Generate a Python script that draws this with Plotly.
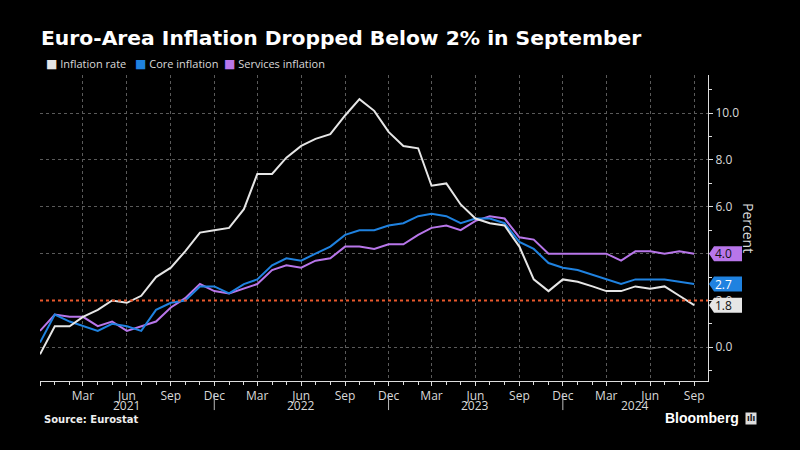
import plotly.graph_objects as go
import pandas as pd

# ---- data (monthly, Dec 2020 .. Sep 2024) ----
months = [d.strftime("%Y-%m-%d") for d in pd.date_range("2020-12-01", "2024-09-01", freq="MS")]

inflation_rate = [-0.3,
                  0.9, 0.9, 1.3, 1.6, 2.0, 1.9, 2.2, 3.0, 3.4, 4.1, 4.9, 5.0,
                  5.1, 5.9, 7.4, 7.4, 8.1, 8.6, 8.9, 9.1, 9.9, 10.6, 10.1, 9.2,
                  8.6, 8.5, 6.9, 7.0, 6.1, 5.5, 5.3, 5.2, 4.3, 2.9, 2.4, 2.9,
                  2.8, 2.6, 2.4, 2.4, 2.6, 2.5, 2.6, 2.2, 1.8]
core_inflation = [0.2,
                  1.4, 1.1, 0.9, 0.7, 1.0, 0.9, 0.7, 1.6, 1.9, 2.0, 2.6, 2.6,
                  2.3, 2.7, 2.9, 3.5, 3.8, 3.7, 4.0, 4.3, 4.8, 5.0, 5.0, 5.2,
                  5.3, 5.6, 5.7, 5.6, 5.3, 5.5, 5.5, 5.3, 4.5, 4.2, 3.6, 3.4,
                  3.3, 3.1, 2.9, 2.7, 2.9, 2.9, 2.9, 2.8, 2.7]
services_inflation = [0.7,
                      1.4, 1.3, 1.3, 0.9, 1.1, 0.7, 0.9, 1.1, 1.7, 2.1, 2.7, 2.4,
                      2.3, 2.5, 2.7, 3.3, 3.5, 3.4, 3.7, 3.8, 4.3, 4.3, 4.2, 4.4,
                      4.4, 4.8, 5.1, 5.2, 5.0, 5.4, 5.6, 5.5, 4.7, 4.6, 4.0, 4.0,
                      4.0, 4.0, 4.0, 3.7, 4.1, 4.1, 4.0, 4.1, 4.0]

series_names = ["Inflation rate", "Core inflation", "Services inflation"]
target_level = 2.0

tick_dates = ["2020-12-01",
              "2021-03-01", "2021-06-01", "2021-09-01", "2021-12-01",
              "2022-03-01", "2022-06-01", "2022-09-01", "2022-12-01",
              "2023-03-01", "2023-06-01", "2023-09-01", "2023-12-01",
              "2024-03-01", "2024-06-01", "2024-09-01"]
tick_text = ["", "Mar", "Jun", "Sep", "Dec", "Mar", "Jun", "Sep", "Dec",
             "Mar", "Jun", "Sep", "Dec", "Mar", "Jun", "Sep"]
year_labels = ["2021", "2022", "2023", "2024"]
year_label_x = ["2021-06-01", "2022-06-01", "2023-06-01", "2024-05-01"]
year_sep_x = ["2021-12-01", "2022-12-01", "2023-12-01"]

# ---- styles ----
colors = ["#e6e6e6", "#1f82e0", "#b876ea"]
label_text_colors = ["#111111", "#ffffff", "#111111"]
FONT = "Open Sans"
TXT = "#d9d9d9"

all_vals = [inflation_rate, core_inflation, services_inflation]

fig = go.Figure()
# draw services, core, then inflation (white on top)
for i in [2, 1, 0]:
    fig.add_trace(go.Scatter(x=months, y=all_vals[i], mode="lines", name=series_names[i],
                             line=dict(color=colors[i], width=2), showlegend=False,
                             hoverinfo="skip"))

# target line
fig.add_shape(type="line", xref="paper", yref="y", x0=0, x1=1, y0=target_level, y1=target_level,
              line=dict(color="#e8582c", width=2, dash="dot"), layer="above")

# end labels
for i in range(3):
    v = all_vals[i][-1]
    fig.add_shape(type="path", xref="paper", yref="y", xsizemode="pixel", ysizemode="pixel",
                  xanchor=1, yanchor=v,
                  path="M 1,0 L 6,7.5 L 34,7.5 L 34,-7.5 L 6,-7.5 Z",
                  fillcolor=colors[i], line=dict(width=0), layer="above")
    fig.add_annotation(xref="paper", yref="y", x=1, y=v, xanchor="left", yanchor="middle",
                       xshift=5, text=f"{v:.1f}", showarrow=False,
                       font=dict(family=FONT, size=12, color=label_text_colors[i]))

# year labels and separators
for yl, yx in zip(year_labels, year_label_x):
    fig.add_annotation(xref="x", yref="paper", x=yx, y=-0.081, text=yl, showarrow=False,
                       xanchor="center", yanchor="middle", borderpad=0,
                       font=dict(family=FONT, size=12, color=TXT))
for sx in year_sep_x:
    fig.add_shape(type="line", xref="x", yref="paper", x0=sx, x1=sx, y0=-0.04, y1=-0.095,
                  line=dict(color="#bbbbbb", width=1))

# title
fig.add_annotation(xref="paper", yref="paper", x=0, xshift=-1, y=1.121, xanchor="left",
                   yanchor="middle",
                   text="<b>Euro-Area Inflation Dropped Below 2% in September</b>",
                   showarrow=False, font=dict(family="DejaVu Sans", size=20.3, color="#ffffff"))

# legend (square + text)
legend_px = [44, 133, 222]
for i in range(3):
    fig.add_annotation(xref="paper", yref="paper", x=(legend_px[i] - 40) / 668, y=1.036,
                       xanchor="left", yanchor="middle", showarrow=False,
                       text=(f"<span style='color:{colors[i]};font-family:DejaVu Sans;"
                             f"font-size:12px'>■</span> {series_names[i]}"),
                       font=dict(family=FONT, size=11, color=TXT))

# axis title
fig.add_annotation(xref="paper", yref="paper", x=1, xshift=41, y=0.5, textangle=90,
                   text="Percent", showarrow=False, xanchor="center", yanchor="middle",
                   font=dict(family=FONT, size=14, color=TXT))

# source
fig.add_annotation(xref="paper", yref="paper", x=0, xshift=2, y=-0.127, xanchor="left",
                   yanchor="middle", text="<b>Source: Eurostat</b>", showarrow=False,
                   font=dict(family="DejaVu Sans", size=10, color="#eeeeee"))
# bloomberg
fig.add_annotation(xref="paper", yref="paper", x=1, xshift=33, y=-0.121, xanchor="right",
                   yanchor="middle", text="<b>Bloomberg</b>", showarrow=False,
                   font=dict(family="Liberation Sans", size=14, color="#ffffff"))
fig.add_annotation(xref="paper", yref="paper", x=1, xshift=43, y=-0.121, xanchor="center",
                   yanchor="middle", text="<b>ılı</b>", showarrow=False, bgcolor="#dddddd",
                   borderpad=1, font=dict(family="DejaVu Sans", size=8, color="#111111"))

fig.update_layout(
    width=800, height=450,
    margin=dict(l=40, r=92, t=75, b=69),
    paper_bgcolor="#000000", plot_bgcolor="#000000",
    showlegend=False,
    font=dict(family=FONT, color=TXT, size=12),
    xaxis=dict(type="date", range=["2020-12-01", "2024-09-30"],
               tickmode="array", tickvals=tick_dates, ticktext=tick_text,
               showgrid=True, gridcolor="#5a5a5a", griddash="dot", gridwidth=1,
               showline=True, linecolor="#dddddd", linewidth=1,
               ticks="outside", ticklen=4, tickcolor="#dddddd",
               tickfont=dict(family=FONT, size=12, color=TXT),
               minor=dict(dtick="M1", tick0="2020-12-01", ticks="outside", ticklen=3,
                          tickcolor="#dddddd", showgrid=False),
               zeroline=False, fixedrange=True),
    yaxis=dict(side="right", range=[-1.44, 11.63], tick0=0, dtick=2, tickformat=".1f",
               showgrid=True, gridcolor="#5a5a5a", griddash="dot", gridwidth=1,
               showline=True, linecolor="#dddddd", linewidth=1,
               ticks="outside", ticklen=4, tickcolor="#dddddd",
               tickfont=dict(family=FONT, size=12, color=TXT),
               minor=dict(dtick=1, ticks="outside", ticklen=3, tickcolor="#dddddd",
                          showgrid=False),
               zeroline=False, fixedrange=True),
)

fig.write_html("out.html")
